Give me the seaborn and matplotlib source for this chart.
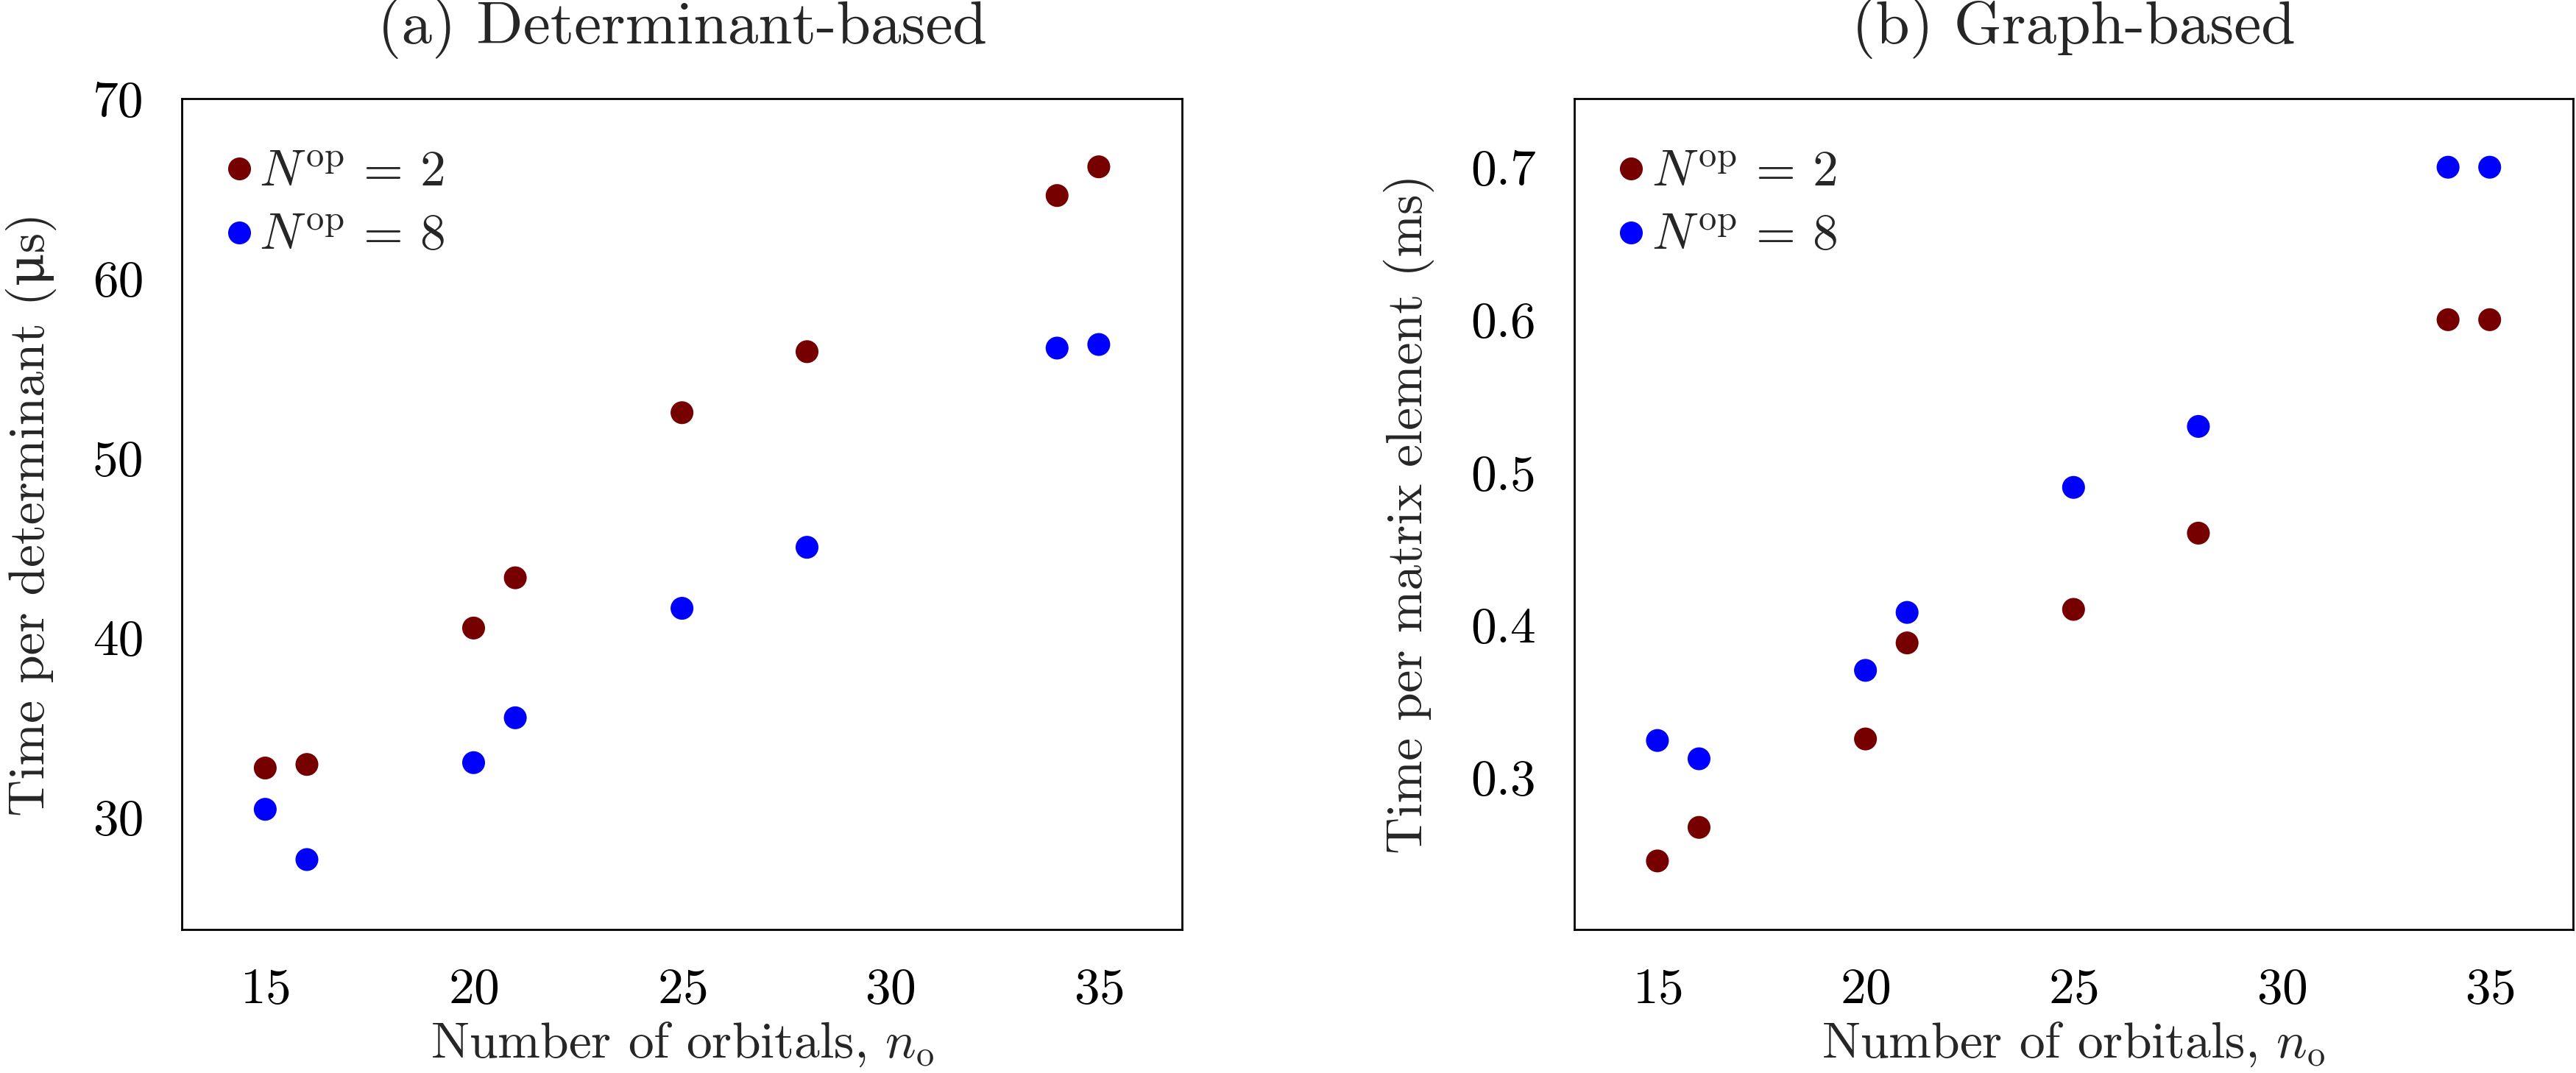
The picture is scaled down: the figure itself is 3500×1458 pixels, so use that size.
import numpy as np
import pandas as pd
import matplotlib
matplotlib.use("Agg")
import matplotlib.pyplot as plt
import seaborn as sns

# orbitals on the x axis (same for both panels)
n_orb = [15, 16, 20, 21, 25, 28, 34, 35]

# (a) determinant-based, time per determinant in microseconds
det_nop2 = [32.7, 32.9, 40.5, 43.3, 52.5, 55.9, 64.6, 66.2]
det_nop8 = [30.4, 27.6, 33.0, 35.5, 41.6, 45.0, 56.1, 56.3]

# (b) graph-based, time per matrix element in ms
graph_nop2 = [0.245, 0.267, 0.325, 0.388, 0.410, 0.460, 0.600, 0.600]
graph_nop8 = [0.324, 0.312, 0.370, 0.408, 0.490, 0.530, 0.700, 0.700]

labels = [r"$N^{\mathrm{op}}\,=\,2$", r"$N^{\mathrm{op}}\,=\,8$"]
colors = {labels[0]: "#760000", labels[1]: "#0000ff"}

def long_form(a, b):
    return pd.DataFrame({
        "n": n_orb + n_orb,
        "t": a + b,
        "series": [labels[0]] * len(a) + [labels[1]] * len(b),
    })

sns.set_style("white")
# computer modern look, DejaVu Serif only as fallback (for the mu)
plt.rcParams["font.family"] = ["cmr10", "DejaVu Serif"]
plt.rcParams["mathtext.fontset"] = "cm"
plt.rcParams["axes.formatter.use_mathtext"] = True
plt.rcParams["font.size"] = 20

fig = plt.figure(figsize=(14, 5.832), dpi=250)
ax1 = fig.add_axes([0.0706, 0.1337, 0.3883, 0.7744])
ax2 = fig.add_axes([0.6111, 0.1337, 0.3877, 0.7744])

panels = [
    (ax1, long_form(det_nop2, det_nop8), "(a) Determinant-based",
     "Time per determinant (μs)", (23.7, 70.0), [30, 40, 50, 60, 70], "{:.0f}"),
    (ax2, long_form(graph_nop2, graph_nop8), "(b) Graph-based",
     "Time per matrix element (ms)", (0.2, 0.745), [0.3, 0.4, 0.5, 0.6, 0.7], "{:.1f}"),
]

for ax, df, title, ylabel, ylim, yticks, fmt in panels:
    sns.scatterplot(data=df, x="n", y="t", hue="series", palette=colors,
                    s=80, linewidth=0, ax=ax)
    ax.set_xlim(13, 37)
    ax.set_ylim(*ylim)
    ax.set_xticks([15, 20, 25, 30, 35])
    ax.set_yticks(yticks)
    ax.set_yticklabels([fmt.format(v) for v in yticks])
    ax.set_title(title, pad=21.5)
    ax.set_xlabel(r"Number of orbitals, $n_{\mathrm{o}}$", labelpad=3)
    ax.set_ylabel(ylabel, labelpad=14)
    for sp in ax.spines.values():
        sp.set_color("black")
        sp.set_linewidth(0.8)
    ax.tick_params(axis="both", which="major", direction="out", length=8.0,
                   width=0.5, color="#4a5858", pad=7, labelcolor="black")
    ax.legend(loc="upper left", bbox_to_anchor=(0.0213, 0.962), frameon=False,
              handlelength=0.6, handletextpad=0.1, labelspacing=0.36,
              borderaxespad=0.0)

fig.savefig("out.png", dpi=250)
